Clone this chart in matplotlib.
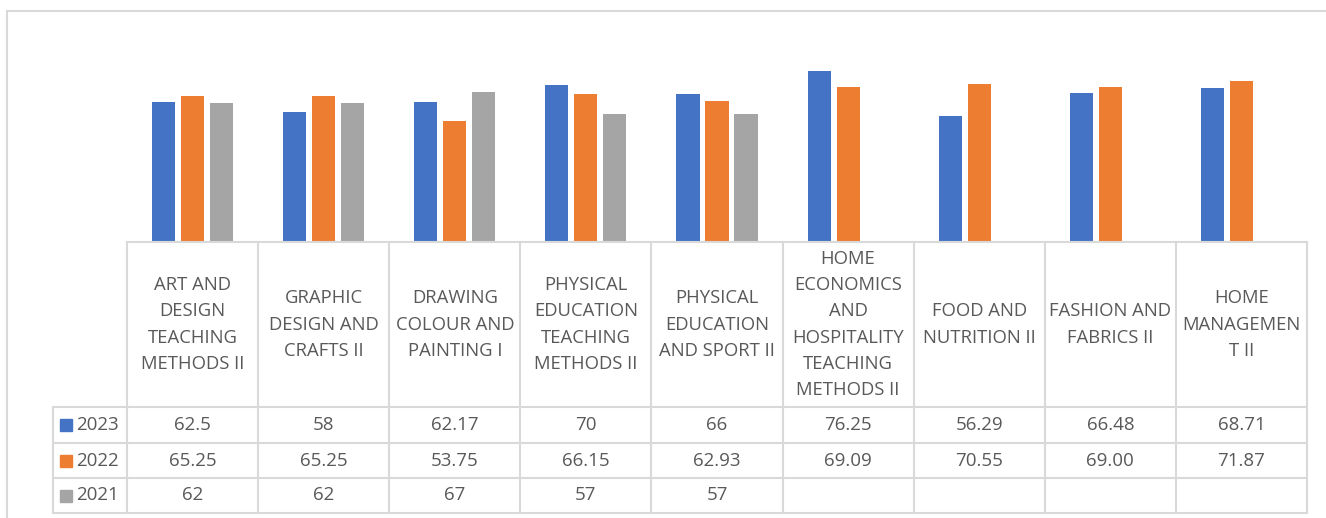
import matplotlib.pyplot as plt
from matplotlib.patches import Rectangle
from matplotlib.transforms import blended_transform_factory

plt.rcParams['font.family'] = ['Open Sans', 'DejaVu Sans']

subjects = ["ART AND\nDESIGN\nTEACHING\nMETHODS II",
            "GRAPHIC\nDESIGN AND\nCRAFTS II",
            "DRAWING\nCOLOUR AND\nPAINTING I",
            "PHYSICAL\nEDUCATION\nTEACHING\nMETHODS II",
            "PHYSICAL\nEDUCATION\nAND SPORT II",
            "HOME\nECONOMICS\nAND\nHOSPITALITY\nTEACHING\nMETHODS II",
            "FOOD AND\nNUTRITION II",
            "FASHION AND\nFABRICS II",
            "HOME\nMANAGEMEN\nT II"]
years = ["2023", "2022", "2021"]
scores_2023 = ["62.5", "58", "62.17", "70", "66", "76.25", "56.29", "66.48", "68.71"]
scores_2022 = ["65.25", "65.25", "53.75", "66.15", "62.93", "69.09", "70.55", "69.00", "71.87"]
scores_2021 = ["62", "62", "67", "57", "57", "", "", "", ""]
colors = ["#4472C4", "#ED7D31", "#A5A5A5"]

W, H = 1326, 518
fig = plt.figure(figsize=(W / 100, H / 100), dpi=100)

def px(x0, y0, x1, y1):
    # pixel box (top-left origin) -> figure fraction rect
    return [x0 / W, 1 - y1 / H, (x1 - x0) / W, (y1 - y0) / H]

ax = fig.add_axes(px(127, 40, 1307, 242))
n = len(subjects)
series = [scores_2023, scores_2022, scores_2021]
offsets = [-0.221, 0.0, 0.221]
for vals, off, c in zip(series, offsets, colors):
    xs = [i + off for i, v in enumerate(vals) if v]
    hs = [float(v) for v in vals if v]
    ax.bar(xs, hs, width=0.176, color=c, zorder=2)

ax.set_xlim(-0.5, n - 0.5)
ax.set_ylim(0, 90)
ax.axis('off')

# data table underneath the bars
grid = '#D9D9D9'
text_col = '#595959'
tr = blended_transform_factory(ax.transData, fig.transFigure)
fy = lambda y: 1 - y / H
col_w = 1180 / n
x_label = -0.5 - (127 - 53) / col_w

row_edges = [242, 407, 443, 478, 513]
# horizontal lines
fig.lines.append(plt.Line2D([-0.5, n - 0.5], [fy(242)] * 2, transform=tr,
                            color=grid, lw=1.5))
for y in row_edges[1:]:
    fig.lines.append(plt.Line2D([x_label, n - 0.5], [fy(y)] * 2, transform=tr,
                                color=grid, lw=1.5))
# vertical lines
for i in range(n + 1):
    fig.lines.append(plt.Line2D([i - 0.5] * 2, [fy(242), fy(513)], transform=tr,
                                color=grid, lw=1.5))
fig.lines.append(plt.Line2D([x_label] * 2, [fy(407), fy(513)], transform=tr,
                            color=grid, lw=1.5))

for i, s in enumerate(subjects):
    fig.text(i, fy((242 + 407) / 2), s, transform=tr, ha='center', va='center',
             color=text_col, fontsize=13.3, linespacing=1.59)

for r, (yr, vals, c) in enumerate(zip(years, series, colors)):
    yc = fy((row_edges[r + 1] + row_edges[r + 2]) / 2)
    fig.patches.append(Rectangle((60 / W, yc - 6 / H), 12 / W, 12 / H,
                                 transform=fig.transFigure, color=c))
    fig.text(76 / W, yc, yr, ha='left', va='center', color=text_col, fontsize=13.5)
    for i, v in enumerate(vals):
        if v:
            fig.text(i, yc, v, transform=tr, ha='center', va='center',
                     color=text_col, fontsize=13.5)

# chart border
fig.patches.append(Rectangle((7 / W, -0.1), 1.2, 1 - 11 / H + 0.1,
                             transform=fig.transFigure, fill=False,
                             edgecolor=grid, lw=1.5))

fig.savefig('out.png', dpi=100)
